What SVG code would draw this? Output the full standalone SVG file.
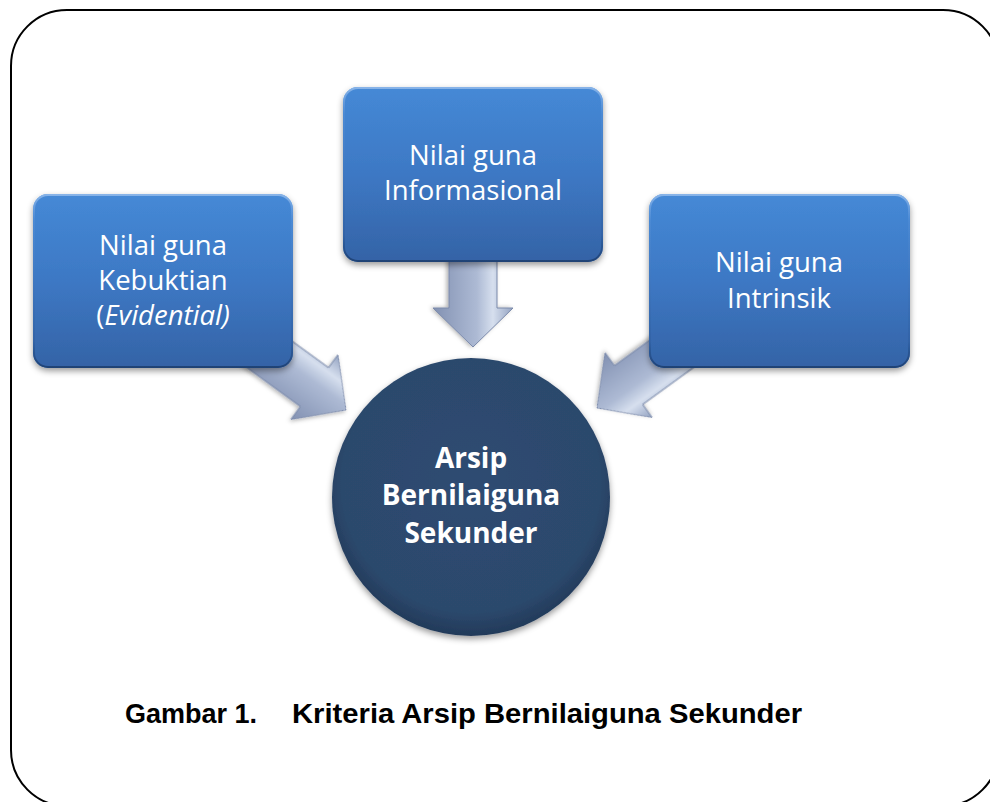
<svg xmlns="http://www.w3.org/2000/svg" width="990" height="802" viewBox="0 0 990 802">
  <defs>
    <linearGradient id="boxGrad" x1="0" y1="0" x2="0" y2="1">
      <stop offset="0" stop-color="#4589d6"/>
      <stop offset="0.5" stop-color="#3d78c4"/>
      <stop offset="1" stop-color="#3463a6"/>
    </linearGradient>
    <linearGradient id="boxEdge" x1="0" y1="0" x2="0" y2="1">
      <stop offset="0" stop-color="#8fb8ea" stop-opacity="0.9"/>
      <stop offset="0.15" stop-color="#6ea0e0" stop-opacity="0.2"/>
      <stop offset="0.85" stop-color="#1f4a85" stop-opacity="0.2"/>
      <stop offset="1" stop-color="#1d3f70" stop-opacity="0.9"/>
    </linearGradient>
    <radialGradient id="circGrad" cx="0.5" cy="0.45" r="0.55">
      <stop offset="0" stop-color="#2e4c72"/>
      <stop offset="0.85" stop-color="#2c486c"/>
      <stop offset="1" stop-color="#223a59"/>
    </radialGradient>
    <linearGradient id="arrowGrad" x1="0" y1="0" x2="0" y2="1">
      <stop offset="0" stop-color="#93a2c1"/>
      <stop offset="0.25" stop-color="#d6dfee"/>
      <stop offset="0.45" stop-color="#adbad4"/>
      <stop offset="1" stop-color="#8291b2"/>
    </linearGradient>
    <filter id="shadow" x="-20%" y="-20%" width="140%" height="150%">
      <feDropShadow dx="0" dy="3" stdDeviation="3" flood-color="#000" flood-opacity="0.4"/>
    </filter>
    <filter id="ashadow" x="-20%" y="-30%" width="140%" height="160%">
      <feDropShadow dx="0" dy="2" stdDeviation="2" flood-color="#000" flood-opacity="0.3"/>
    </filter>
    <polygon id="arrowShape" points="0,0 -39,-40 -39,-24 -150,-24 -150,24 -39,24 -39,40"/>
  </defs>
  <style>
    .frame { fill: #ffffff; stroke: #000000; stroke-width: 2; }
    .box { fill: url(#boxGrad); filter: url(#shadow); }
    .boxedge { fill: none; stroke: url(#boxEdge); stroke-width: 2; }
    .btxt { font-family: "Open Sans", "Noto Sans", sans-serif; font-size: 27.5px; fill: #ffffff; text-anchor: middle; }
    .ctxt { font-family: "Open Sans", "Noto Sans", sans-serif; font-size: 28px; font-weight: bold; fill: #ffffff; text-anchor: middle; }
    .arrow { fill: url(#arrowGrad); stroke: #7a89aa; stroke-width: 1; filter: url(#ashadow); }
    .cap { font-family: "Liberation Sans", Arial, sans-serif; font-size: 28px; font-weight: bold; fill: #000000; }
  </style>

  <rect x="0" y="0" width="990" height="802" fill="#ffffff"/>
  <rect class="frame" x="11" y="10" width="988" height="796" rx="56" ry="56"/>

  <g id="connectors">
    <use href="#arrowShape" class="arrow" transform="translate(346,410) rotate(36)"/>
    <use href="#arrowShape" class="arrow" transform="translate(473,347) rotate(90)"/>
    <use href="#arrowShape" class="arrow" transform="translate(597,408) rotate(144)"/>
  </g>

  <g id="node-kebuktian">
    <rect class="box" x="33" y="194" width="260" height="174" rx="15"/>
    <rect class="boxedge" x="34" y="195" width="258" height="172" rx="14"/>
    <text class="btxt" x="163" y="255">Nilai guna</text>
    <text class="btxt" x="163" y="290">Kebuktian</text>
    <text class="btxt" x="163" y="325">(<tspan font-style="italic">Evidential)</tspan></text>
  </g>

  <g id="node-informasional">
    <rect class="box" x="343" y="87" width="260" height="175" rx="15"/>
    <rect class="boxedge" x="344" y="88" width="258" height="173" rx="14"/>
    <text class="btxt" x="473" y="165">Nilai guna</text>
    <text class="btxt" x="473" y="200">Informasional</text>
  </g>

  <g id="node-intrinsik">
    <rect class="box" x="649" y="194" width="261" height="174" rx="15"/>
    <rect class="boxedge" x="650" y="195" width="259" height="172" rx="14"/>
    <text class="btxt" x="779" y="272">Nilai guna</text>
    <text class="btxt" x="779" y="308">Intrinsik</text>
  </g>

  <g id="node-arsip">
    <circle cx="471" cy="497" r="139" fill="url(#circGrad)" filter="url(#shadow)"/>
    <text class="ctxt" x="471" y="468">Arsip</text>
    <text class="ctxt" x="471" y="505">Bernilaiguna</text>
    <text class="ctxt" x="471" y="543">Sekunder</text>
  </g>

  <g id="caption">
    <text class="cap" x="125" y="723" textLength="132" lengthAdjust="spacingAndGlyphs">Gambar 1.</text>
    <text class="cap" x="292" y="723" textLength="510" lengthAdjust="spacingAndGlyphs">Kriteria Arsip Bernilaiguna Sekunder</text>
  </g>
</svg>
